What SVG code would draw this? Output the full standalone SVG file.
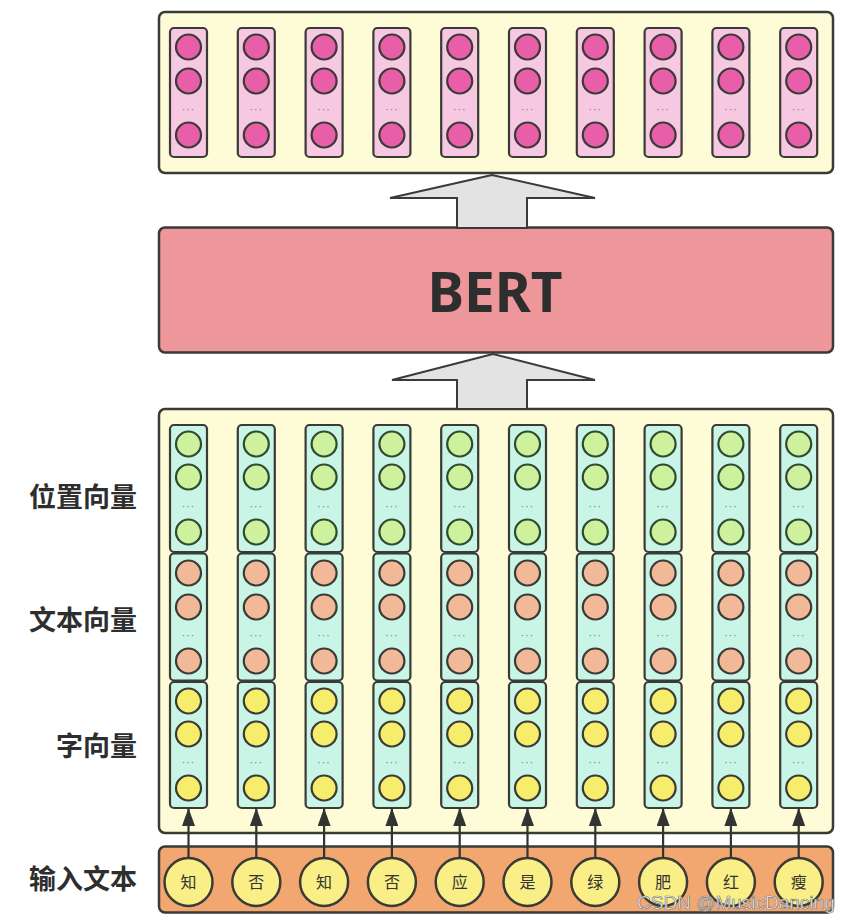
<svg xmlns="http://www.w3.org/2000/svg" width="850" height="924" viewBox="0 0 850 924">
<defs>
<style>
.panel{fill:#fefcd6;stroke:#3a3a36;stroke-width:2.5}
.col{stroke:#3a3a36;stroke-width:2.2}
.pinkcol{fill:#f6c8e2}
.cyancol{fill:#c9f5e6}
.pink{fill:#e85ea8;stroke:#3a3a36;stroke-width:2.2}
.green{fill:#cdf19c;stroke:#2f4a30;stroke-width:2.2}
.orange{fill:#f1b997;stroke:#3a3a36;stroke-width:2.2}
.yellow{fill:#f7ed6c;stroke:#3a3a36;stroke-width:2.2}
.dots{font-family:"DejaVu Sans",sans-serif;font-size:11px;letter-spacing:1px;fill:#888;text-anchor:middle}
.big{fill:#e3e3e3;stroke:#3a3a36;stroke-width:2}
.lbl{font-family:"Noto Sans CJK SC","Noto Sans",sans-serif;font-weight:bold;font-size:27px;fill:#2e2e2e;text-anchor:end}
.inc{fill:#f9ef86;stroke:#3a3a36;stroke-width:2.5}
.ch{font-family:"Noto Sans CJK SC",sans-serif;font-size:16px;fill:#333;text-anchor:middle}
.conn{stroke:#333;stroke-width:2.2;fill:none}
</style>
<marker id="ah" viewBox="0 0 13 18" refX="6.5" refY="0" markerWidth="13" markerHeight="18" markerUnits="userSpaceOnUse" orient="0">
<path d="M0,18 L6.5,0 L13,18 Z" fill="#333"/>
</marker>
</defs>
<rect width="850" height="924" fill="#ffffff"/>

<g id="output-panel">
<rect class="panel" x="159" y="12" width="674" height="161" rx="6"/>
</g>
<g id="output-columns">
<g id="out0"><rect class="col pinkcol" x="170" y="28" width="37" height="129" rx="4"/><circle class="pink" cx="188.5" cy="47" r="12.5"/><circle class="pink" cx="188.5" cy="81" r="12.5"/><text class="dots" x="188.5" y="113">···</text><circle class="pink" cx="188.5" cy="135" r="12.5"/></g>
<g id="out1"><rect class="col pinkcol" x="237.8" y="28" width="37" height="129" rx="4"/><circle class="pink" cx="256.3" cy="47" r="12.5"/><circle class="pink" cx="256.3" cy="81" r="12.5"/><text class="dots" x="256.3" y="113">···</text><circle class="pink" cx="256.3" cy="135" r="12.5"/></g>
<g id="out2"><rect class="col pinkcol" x="305.6" y="28" width="37" height="129" rx="4"/><circle class="pink" cx="324.1" cy="47" r="12.5"/><circle class="pink" cx="324.1" cy="81" r="12.5"/><text class="dots" x="324.1" y="113">···</text><circle class="pink" cx="324.1" cy="135" r="12.5"/></g>
<g id="out3"><rect class="col pinkcol" x="373.4" y="28" width="37" height="129" rx="4"/><circle class="pink" cx="391.9" cy="47" r="12.5"/><circle class="pink" cx="391.9" cy="81" r="12.5"/><text class="dots" x="391.9" y="113">···</text><circle class="pink" cx="391.9" cy="135" r="12.5"/></g>
<g id="out4"><rect class="col pinkcol" x="441.2" y="28" width="37" height="129" rx="4"/><circle class="pink" cx="459.7" cy="47" r="12.5"/><circle class="pink" cx="459.7" cy="81" r="12.5"/><text class="dots" x="459.7" y="113">···</text><circle class="pink" cx="459.7" cy="135" r="12.5"/></g>
<g id="out5"><rect class="col pinkcol" x="509" y="28" width="37" height="129" rx="4"/><circle class="pink" cx="527.5" cy="47" r="12.5"/><circle class="pink" cx="527.5" cy="81" r="12.5"/><text class="dots" x="527.5" y="113">···</text><circle class="pink" cx="527.5" cy="135" r="12.5"/></g>
<g id="out6"><rect class="col pinkcol" x="576.8" y="28" width="37" height="129" rx="4"/><circle class="pink" cx="595.3" cy="47" r="12.5"/><circle class="pink" cx="595.3" cy="81" r="12.5"/><text class="dots" x="595.3" y="113">···</text><circle class="pink" cx="595.3" cy="135" r="12.5"/></g>
<g id="out7"><rect class="col pinkcol" x="644.6" y="28" width="37" height="129" rx="4"/><circle class="pink" cx="663.1" cy="47" r="12.5"/><circle class="pink" cx="663.1" cy="81" r="12.5"/><text class="dots" x="663.1" y="113">···</text><circle class="pink" cx="663.1" cy="135" r="12.5"/></g>
<g id="out8"><rect class="col pinkcol" x="712.4" y="28" width="37" height="129" rx="4"/><circle class="pink" cx="730.9" cy="47" r="12.5"/><circle class="pink" cx="730.9" cy="81" r="12.5"/><text class="dots" x="730.9" y="113">···</text><circle class="pink" cx="730.9" cy="135" r="12.5"/></g>
<g id="out9"><rect class="col pinkcol" x="780.2" y="28" width="37" height="129" rx="4"/><circle class="pink" cx="798.7" cy="47" r="12.5"/><circle class="pink" cx="798.7" cy="81" r="12.5"/><text class="dots" x="798.7" y="113">···</text><circle class="pink" cx="798.7" cy="135" r="12.5"/></g>
</g>

<g id="bert">
<rect x="159" y="227.5" width="674" height="125" rx="6" fill="#ee979a" stroke="#3a3a36" stroke-width="2.5"/>
<text x="495" y="312" font-family="'Noto Sans','DejaVu Sans',sans-serif" font-weight="bold" font-size="55" fill="#2e2e2e" text-anchor="middle">BERT</text>
</g>

<g id="embedding-panel">
<rect class="panel" x="159" y="409" width="674" height="424" rx="6"/>
</g>

<g id="embedding-columns">
<g id="emb0">
<rect class="col cyancol" x="170" y="425" width="37" height="127" rx="4"/><circle class="green" cx="188.5" cy="444" r="12.5"/><circle class="green" cx="188.5" cy="477" r="12.5"/><text class="dots" x="188.5" y="510">···</text><circle class="green" cx="188.5" cy="532" r="12.5"/>
<rect class="col cyancol" x="170" y="553.5" width="37" height="127" rx="4"/><circle class="orange" cx="188.5" cy="573" r="12.5"/><circle class="orange" cx="188.5" cy="607" r="12.5"/><text class="dots" x="188.5" y="639">···</text><circle class="orange" cx="188.5" cy="661" r="12.5"/>
<rect class="col cyancol" x="170" y="682" width="37" height="126" rx="4"/><circle class="yellow" cx="188.5" cy="701" r="12.5"/><circle class="yellow" cx="188.5" cy="734" r="12.5"/><text class="dots" x="188.5" y="766">···</text><circle class="yellow" cx="188.5" cy="788" r="12.5"/>
</g>
<g id="emb1">
<rect class="col cyancol" x="237.8" y="425" width="37" height="127" rx="4"/><circle class="green" cx="256.3" cy="444" r="12.5"/><circle class="green" cx="256.3" cy="477" r="12.5"/><text class="dots" x="256.3" y="510">···</text><circle class="green" cx="256.3" cy="532" r="12.5"/>
<rect class="col cyancol" x="237.8" y="553.5" width="37" height="127" rx="4"/><circle class="orange" cx="256.3" cy="573" r="12.5"/><circle class="orange" cx="256.3" cy="607" r="12.5"/><text class="dots" x="256.3" y="639">···</text><circle class="orange" cx="256.3" cy="661" r="12.5"/>
<rect class="col cyancol" x="237.8" y="682" width="37" height="126" rx="4"/><circle class="yellow" cx="256.3" cy="701" r="12.5"/><circle class="yellow" cx="256.3" cy="734" r="12.5"/><text class="dots" x="256.3" y="766">···</text><circle class="yellow" cx="256.3" cy="788" r="12.5"/>
</g>
<g id="emb2">
<rect class="col cyancol" x="305.6" y="425" width="37" height="127" rx="4"/><circle class="green" cx="324.1" cy="444" r="12.5"/><circle class="green" cx="324.1" cy="477" r="12.5"/><text class="dots" x="324.1" y="510">···</text><circle class="green" cx="324.1" cy="532" r="12.5"/>
<rect class="col cyancol" x="305.6" y="553.5" width="37" height="127" rx="4"/><circle class="orange" cx="324.1" cy="573" r="12.5"/><circle class="orange" cx="324.1" cy="607" r="12.5"/><text class="dots" x="324.1" y="639">···</text><circle class="orange" cx="324.1" cy="661" r="12.5"/>
<rect class="col cyancol" x="305.6" y="682" width="37" height="126" rx="4"/><circle class="yellow" cx="324.1" cy="701" r="12.5"/><circle class="yellow" cx="324.1" cy="734" r="12.5"/><text class="dots" x="324.1" y="766">···</text><circle class="yellow" cx="324.1" cy="788" r="12.5"/>
</g>
<g id="emb3">
<rect class="col cyancol" x="373.4" y="425" width="37" height="127" rx="4"/><circle class="green" cx="391.9" cy="444" r="12.5"/><circle class="green" cx="391.9" cy="477" r="12.5"/><text class="dots" x="391.9" y="510">···</text><circle class="green" cx="391.9" cy="532" r="12.5"/>
<rect class="col cyancol" x="373.4" y="553.5" width="37" height="127" rx="4"/><circle class="orange" cx="391.9" cy="573" r="12.5"/><circle class="orange" cx="391.9" cy="607" r="12.5"/><text class="dots" x="391.9" y="639">···</text><circle class="orange" cx="391.9" cy="661" r="12.5"/>
<rect class="col cyancol" x="373.4" y="682" width="37" height="126" rx="4"/><circle class="yellow" cx="391.9" cy="701" r="12.5"/><circle class="yellow" cx="391.9" cy="734" r="12.5"/><text class="dots" x="391.9" y="766">···</text><circle class="yellow" cx="391.9" cy="788" r="12.5"/>
</g>
<g id="emb4">
<rect class="col cyancol" x="441.2" y="425" width="37" height="127" rx="4"/><circle class="green" cx="459.7" cy="444" r="12.5"/><circle class="green" cx="459.7" cy="477" r="12.5"/><text class="dots" x="459.7" y="510">···</text><circle class="green" cx="459.7" cy="532" r="12.5"/>
<rect class="col cyancol" x="441.2" y="553.5" width="37" height="127" rx="4"/><circle class="orange" cx="459.7" cy="573" r="12.5"/><circle class="orange" cx="459.7" cy="607" r="12.5"/><text class="dots" x="459.7" y="639">···</text><circle class="orange" cx="459.7" cy="661" r="12.5"/>
<rect class="col cyancol" x="441.2" y="682" width="37" height="126" rx="4"/><circle class="yellow" cx="459.7" cy="701" r="12.5"/><circle class="yellow" cx="459.7" cy="734" r="12.5"/><text class="dots" x="459.7" y="766">···</text><circle class="yellow" cx="459.7" cy="788" r="12.5"/>
</g>
<g id="emb5">
<rect class="col cyancol" x="509" y="425" width="37" height="127" rx="4"/><circle class="green" cx="527.5" cy="444" r="12.5"/><circle class="green" cx="527.5" cy="477" r="12.5"/><text class="dots" x="527.5" y="510">···</text><circle class="green" cx="527.5" cy="532" r="12.5"/>
<rect class="col cyancol" x="509" y="553.5" width="37" height="127" rx="4"/><circle class="orange" cx="527.5" cy="573" r="12.5"/><circle class="orange" cx="527.5" cy="607" r="12.5"/><text class="dots" x="527.5" y="639">···</text><circle class="orange" cx="527.5" cy="661" r="12.5"/>
<rect class="col cyancol" x="509" y="682" width="37" height="126" rx="4"/><circle class="yellow" cx="527.5" cy="701" r="12.5"/><circle class="yellow" cx="527.5" cy="734" r="12.5"/><text class="dots" x="527.5" y="766">···</text><circle class="yellow" cx="527.5" cy="788" r="12.5"/>
</g>
<g id="emb6">
<rect class="col cyancol" x="576.8" y="425" width="37" height="127" rx="4"/><circle class="green" cx="595.3" cy="444" r="12.5"/><circle class="green" cx="595.3" cy="477" r="12.5"/><text class="dots" x="595.3" y="510">···</text><circle class="green" cx="595.3" cy="532" r="12.5"/>
<rect class="col cyancol" x="576.8" y="553.5" width="37" height="127" rx="4"/><circle class="orange" cx="595.3" cy="573" r="12.5"/><circle class="orange" cx="595.3" cy="607" r="12.5"/><text class="dots" x="595.3" y="639">···</text><circle class="orange" cx="595.3" cy="661" r="12.5"/>
<rect class="col cyancol" x="576.8" y="682" width="37" height="126" rx="4"/><circle class="yellow" cx="595.3" cy="701" r="12.5"/><circle class="yellow" cx="595.3" cy="734" r="12.5"/><text class="dots" x="595.3" y="766">···</text><circle class="yellow" cx="595.3" cy="788" r="12.5"/>
</g>
<g id="emb7">
<rect class="col cyancol" x="644.6" y="425" width="37" height="127" rx="4"/><circle class="green" cx="663.1" cy="444" r="12.5"/><circle class="green" cx="663.1" cy="477" r="12.5"/><text class="dots" x="663.1" y="510">···</text><circle class="green" cx="663.1" cy="532" r="12.5"/>
<rect class="col cyancol" x="644.6" y="553.5" width="37" height="127" rx="4"/><circle class="orange" cx="663.1" cy="573" r="12.5"/><circle class="orange" cx="663.1" cy="607" r="12.5"/><text class="dots" x="663.1" y="639">···</text><circle class="orange" cx="663.1" cy="661" r="12.5"/>
<rect class="col cyancol" x="644.6" y="682" width="37" height="126" rx="4"/><circle class="yellow" cx="663.1" cy="701" r="12.5"/><circle class="yellow" cx="663.1" cy="734" r="12.5"/><text class="dots" x="663.1" y="766">···</text><circle class="yellow" cx="663.1" cy="788" r="12.5"/>
</g>
<g id="emb8">
<rect class="col cyancol" x="712.4" y="425" width="37" height="127" rx="4"/><circle class="green" cx="730.9" cy="444" r="12.5"/><circle class="green" cx="730.9" cy="477" r="12.5"/><text class="dots" x="730.9" y="510">···</text><circle class="green" cx="730.9" cy="532" r="12.5"/>
<rect class="col cyancol" x="712.4" y="553.5" width="37" height="127" rx="4"/><circle class="orange" cx="730.9" cy="573" r="12.5"/><circle class="orange" cx="730.9" cy="607" r="12.5"/><text class="dots" x="730.9" y="639">···</text><circle class="orange" cx="730.9" cy="661" r="12.5"/>
<rect class="col cyancol" x="712.4" y="682" width="37" height="126" rx="4"/><circle class="yellow" cx="730.9" cy="701" r="12.5"/><circle class="yellow" cx="730.9" cy="734" r="12.5"/><text class="dots" x="730.9" y="766">···</text><circle class="yellow" cx="730.9" cy="788" r="12.5"/>
</g>
<g id="emb9">
<rect class="col cyancol" x="780.2" y="425" width="37" height="127" rx="4"/><circle class="green" cx="798.7" cy="444" r="12.5"/><circle class="green" cx="798.7" cy="477" r="12.5"/><text class="dots" x="798.7" y="510">···</text><circle class="green" cx="798.7" cy="532" r="12.5"/>
<rect class="col cyancol" x="780.2" y="553.5" width="37" height="127" rx="4"/><circle class="orange" cx="798.7" cy="573" r="12.5"/><circle class="orange" cx="798.7" cy="607" r="12.5"/><text class="dots" x="798.7" y="639">···</text><circle class="orange" cx="798.7" cy="661" r="12.5"/>
<rect class="col cyancol" x="780.2" y="682" width="37" height="126" rx="4"/><circle class="yellow" cx="798.7" cy="701" r="12.5"/><circle class="yellow" cx="798.7" cy="734" r="12.5"/><text class="dots" x="798.7" y="766">···</text><circle class="yellow" cx="798.7" cy="788" r="12.5"/>
</g>
</g>

<g id="labels">
<text class="lbl" x="137" y="507">位置向量</text>
<text class="lbl" x="137" y="630">文本向量</text>
<text class="lbl" x="137" y="756">字向量</text>
<text class="lbl" x="137" y="889">输入文本</text>
</g>

<g id="input-panel">
<rect x="159" y="846.5" width="674" height="66" rx="6" fill="#f2a670" stroke="#3a3a36" stroke-width="2.5"/>
</g>
<g id="inputs">
<g id="in0"><circle class="inc" cx="188.5" cy="882" r="24"/><text class="ch" x="188.5" y="888">知</text></g>
<g id="in1"><circle class="inc" cx="256.3" cy="882" r="24"/><text class="ch" x="256.3" y="888">否</text></g>
<g id="in2"><circle class="inc" cx="324.1" cy="882" r="24"/><text class="ch" x="324.1" y="888">知</text></g>
<g id="in3"><circle class="inc" cx="391.9" cy="882" r="24"/><text class="ch" x="391.9" y="888">否</text></g>
<g id="in4"><circle class="inc" cx="459.7" cy="882" r="24"/><text class="ch" x="459.7" y="888">应</text></g>
<g id="in5"><circle class="inc" cx="527.5" cy="882" r="24"/><text class="ch" x="527.5" y="888">是</text></g>
<g id="in6"><circle class="inc" cx="595.3" cy="882" r="24"/><text class="ch" x="595.3" y="888">绿</text></g>
<g id="in7"><circle class="inc" cx="663.1" cy="882" r="24"/><text class="ch" x="663.1" y="888">肥</text></g>
<g id="in8"><circle class="inc" cx="730.9" cy="882" r="24"/><text class="ch" x="730.9" y="888">红</text></g>
<g id="in9"><circle class="inc" cx="798.7" cy="882" r="24"/><text class="ch" x="798.7" y="888">瘦</text></g>
</g>

<g id="connectors">
<polygon class="big" points="492,175 390,198 457,198 457,228 527,228 527,198 595,198"/>
<polygon class="big" points="493,354 392,380 457,380 457,409 527,409 527,380 595,380"/>
<path class="conn" marker-end="url(#ah)" d="M188.5,858 V808"/>
<path class="conn" marker-end="url(#ah)" d="M256.3,858 V808"/>
<path class="conn" marker-end="url(#ah)" d="M324.1,858 V808"/>
<path class="conn" marker-end="url(#ah)" d="M391.9,858 V808"/>
<path class="conn" marker-end="url(#ah)" d="M459.7,858 V808"/>
<path class="conn" marker-end="url(#ah)" d="M527.5,858 V808"/>
<path class="conn" marker-end="url(#ah)" d="M595.3,858 V808"/>
<path class="conn" marker-end="url(#ah)" d="M663.1,858 V808"/>
<path class="conn" marker-end="url(#ah)" d="M730.9,858 V808"/>
<path class="conn" marker-end="url(#ah)" d="M798.7,858 V808"/>
</g>

<g id="watermark">
<text x="637" y="909" font-family="'Liberation Sans',sans-serif" font-size="19" fill="#ffffff" stroke="#7a7a7a" stroke-width="0.7">CSDN @MusicDancing</text>
</g>
</svg>
